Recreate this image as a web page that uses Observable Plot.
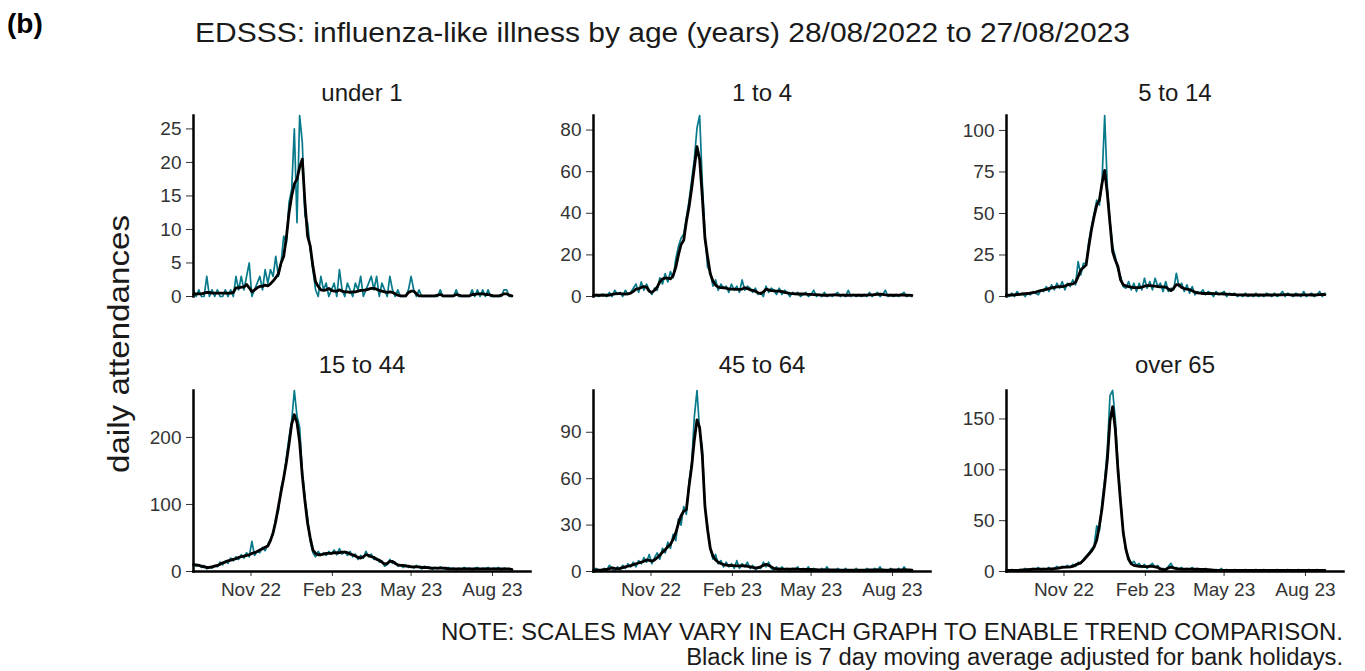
<!DOCTYPE html>
<html>
<head>
<meta charset="utf-8">
<script src="https://cdn.jsdelivr.net/npm/d3@7"></script>
<script src="https://cdn.jsdelivr.net/npm/@observablehq/plot@0.6"></script>
<style>
  body { margin: 0; background: #fff; }
  #root { position: relative; width: 1365px; height: 671px; overflow: hidden; font-family: "Liberation Sans", Arial, sans-serif; color: #000; }
  .abs { position: absolute; white-space: nowrap; line-height: 1; display: inline-block; }
</style>
</head>
<body>
<div id="root"></div>
<script>
// ---- data (sampled every 3 days from 28/08/2022) ----
const startDate = "2022-08-28";
const stepDays = 3;
const xDomain = ["2022-08-28", "2023-09-13"];
const xTickDates = ["2022-11-01", "2023-02-01", "2023-05-01", "2023-08-01"];

const panelTitles = ["under 1", "1 to 4", "5 to 14", "15 to 44", "45 to 64", "over 65"];

const under1Daily = [1,0,1,0,0,3,0,1,0,1, 0,0,1,0,1,0,3,1,3,1, 3,5,0,1,2,3,1,4,2,4, 3,6,3,5,9,8,14,16,25,11, 27,23,12,11,7,4,1,0,3,1, 2,0,1,2,0,4,1,0,2,1, 0,2,1,3,0,1,2,3,1,3, 0,2,1,0,3,1,0,1,0,0, 0,1,3,1,0,1,0,0,0,0, 0,0,0,1,0,0,0,0,0,1, 0,0,0,0,0,1,0,1,0,1, 0,1,0,0,0,0,0,1,1,0, 0];
const under1Avg = [0.3,0.4,0.4,0.4,0.5,0.6,0.6,0.5,0.5,0.5, 0.5,0.5,0.5,0.5,0.5,0.6,1.3,1.3,1.4,1.4, 1.8,1.3,0.7,1.0,1.3,1.5,1.5,1.7,1.6,1.9, 2.3,2.8,3.4,5.0,6.0,8.8,12.5,15,16.8,17.5, 19.3,20.5,14,9,7.5,4.5,2.2,1.5,1.0,0.9, 1.0,1.2,0.9,0.8,0.8,1.0,0.8,0.7,0.7,0.6, 0.7,0.7,0.8,0.9,0.9,1.0,1.1,1.2,1.2,1.1, 0.9,0.8,0.7,0.6,0.7,0.6,0.4,0.2,0.1,0.1, 0.1,0.6,0.8,0.8,0.4,0.1,0.1,0.1,0.1,0.1, 0.1,0.1,0.2,0.3,0.1,0.1,0.1,0.1,0.1,0.3, 0.2,0.1,0.1,0.1,0.1,0.3,0.3,0.4,0.4,0.4, 0.3,0.3,0.2,0.1,0.1,0.1,0.2,0.4,0.4,0.2, 0.1];

const age1to4Daily = [0,1,0,1,1,0,2,0,3,1, 2,0,3,1,2,4,6,2,7,3, 6,3,1,4,3,9,6,11,7,12, 9,18,24,28,30,38,46,56,66,81, 87,55,30,14,12,5,8,3,6,4, 5,2,6,3,5,2,8,3,5,4, 2,4,1,2,0,5,2,4,3,1, 4,1,3,2,0,2,1,2,0,1, 2,0,1,3,0,1,0,2,0,1, 0,1,2,0,1,0,3,0,1,0, 1,0,1,0,2,0,1,2,0,1, 3,0,1,0,1,0,1,2,0,1, 0];
const age1to4Avg = [0.6,0.6,0.6,0.6,0.6,0.6,0.7,1.0,1.3,1.4, 1.4,1.3,1.2,1.3,1.6,2.5,3.5,3.8,4.3,4.8, 4.5,2.5,2.0,3.0,4.5,7.0,8.5,8.8,8.8,8.5, 10,14,20,25,27,36,43,52,62,72, 66,48,28,19,11,7.5,5.5,4.5,4.3,4.2, 4.0,3.6,3.5,3.5,3.4,3.4,3.6,4.2,3.8,3.2, 3.0,2.5,1.8,1.4,2.2,3.5,3.2,2.8,2.7,2.6, 2.6,2.4,2.0,1.7,1.5,1.4,1.3,1.2,1.3,1.2, 1.1,1.0,1.0,0.9,0.9,0.8,0.7,0.6,0.6,0.7, 0.8,0.8,0.7,0.7,0.7,0.6,0.6,0.7,0.7,0.6, 0.6,0.6,0.6,0.7,0.8,0.8,0.9,1.0,1.1,1.0, 0.8,0.7,0.6,0.6,0.6,0.7,0.8,0.7,0.6,0.5, 0.5];

const age5to14Daily = [1,0,2,0,3,1,2,0,2,1, 3,2,1,4,3,6,3,7,4,8, 5,9,4,8,6,10,7,21,13,20, 20,33,42,50,58,55,70,109,66,45, 30,24,16,12,6,5,9,4,8,3, 8,4,11,5,9,4,11,6,8,3, 9,3,5,4,14,6,8,3,7,2, 6,1,3,2,4,1,3,2,0,3, 1,2,3,0,2,1,2,0,1,0, 2,0,1,0,2,0,1,0,2,1, 0,2,0,1,3,0,2,1,0,2, 1,0,3,0,1,2,0,1,3,0, 2];
const age5to14Avg = [0.7,0.8,0.9,1.0,1.2,1.3,1.5,1.7,1.8,2.1, 2.3,2.6,3.2,3.6,4.0,4.3,4.8,5.2,5.5,5.8, 5.9,6.0,6.3,7.0,7.4,7.6,8.5,12,16,17.5, 19,30,40,48,55,58,68,76,62,44, 27,22,18,10,7,6.4,6.0,5.6,5.4,5.4, 5.4,5.6,6.2,6.6,6.6,6.4,6.2,6.0,5.8,5.8, 5.6,4.5,3.5,5.0,7.2,7.0,5.5,4.8,4.4,4.2, 3.5,2.6,2.2,2.0,1.8,1.8,1.8,1.8,1.7,1.7, 1.6,1.6,1.5,1.4,1.3,1.2,1.1,1.0,1.0,1.0, 0.9,0.9,0.9,0.9,0.9,0.9,0.9,0.9,0.9,0.9, 0.9,1.0,1.0,1.0,1.0,1.1,1.1,1.0,0.9,0.9, 0.9,1.0,1.0,1.0,1.0,0.9,0.9,1.0,1.1,1.2, 1.1];

const age15to44Daily = [12,8,10,6,9,4,7,5,9,7, 14,10,16,12,20,16,22,18,25,20, 28,22,45,24,30,28,36,31,40,48, 55,80,90,125,140,170,200,225,270,232, 215,150,110,80,45,28,22,30,24,28, 24,30,26,32,25,34,26,30,24,30, 22,26,18,24,20,30,22,26,18,20, 14,16,8,10,18,12,14,8,10,6, 10,6,8,5,9,6,4,8,5,7, 3,6,4,7,5,3,6,4,5,2, 5,3,6,4,5,2,5,6,3,5, 4,6,3,5,4,6,2,5,4,3, 4];
const age15to44Avg = [10,10,9,8,7,6,6,7,8,9, 11,13,14,16,17,18,19,21,22,23, 24,25,27,28,30,32,34,36,38,46, 58,75,97,119,140,163,190,220,234,222, 193,143,105,72,50,32,27,25,25,26, 27,27,27,28,28,28,29,29,28,26, 25,23,21,20,22,25,24,22,21,18, 17,14,11,12,15,15,12,10,9,9, 8,8,7,7,7,7,6,6,6,5, 5,5,5,5,5,5,4,4,4,4, 4,4,4,4,4,4,4,4,4,4, 4,4,4,4,4,4,4,4,4,4, 3];

const age45to64Daily = [0,2,1,0,2,1,4,2,0,3, 1,4,2,5,3,6,3,7,5,9, 6,11,5,9,12,8,15,12,19,15, 24,20,34,30,42,37,58,70,100,117, 91,80,42,28,15,8,11,5,7,3, 6,3,5,2,7,2,5,3,6,2, 4,1,3,2,6,3,6,2,1,3, 0,3,1,2,0,2,1,3,0,2, 1,3,0,2,1,0,2,1,3,0, 1,0,2,1,0,2,0,1,0,2, 0,1,0,2,1,0,2,1,3,0, 1,0,2,1,0,2,0,3,1,0, 1];
const age45to64Avg = [0.9,0.9,0.9,1.0,1.2,1.3,1.8,2.4,2.0,1.8, 2.0,2.5,3.0,3.4,3.8,4.4,5.0,5.5,6.0,6.6, 7.5,7.2,6.7,7.5,8.9,10.5,12.5,14,16,17.5, 21,25,31,36,39,40,55,68,85,98, 93,75,42,27,15,10,7.5,6,5.2,4.5, 4.2,4.0,3.8,3.8,3.6,3.6,3.8,3.6,3.4,3.0, 2.6,2.4,2.4,3.0,4.0,4.6,4.0,3.0,2.0,1.7, 1.7,1.6,1.6,1.5,1.5,1.6,1.7,1.5,1.4,1.4, 1.3,1.3,1.3,1.2,1.2,1.1,1.1,1.0,1.0,1.0, 1.0,1.0,0.9,0.9,0.9,0.9,0.9,0.9,0.9,0.9, 0.9,0.9,0.9,0.9,1.0,1.0,1.1,1.1,1.0,1.0, 0.9,0.9,1.0,1.1,1.0,1.0,1.1,1.2,1.1,1.0, 0.9];

const over65Daily = [1,0,2,1,0,2,1,3,2,1, 3,2,4,1,3,2,4,1,3,5, 3,5,4,6,4,7,5,9,8,12, 15,18,22,25,45,40,68,90,120,173, 178,150,105,70,40,20,14,8,10,6, 8,4,7,3,6,8,4,6,2,3, 1,5,8,3,4,2,4,1,3,2, 4,1,3,2,0,3,1,2,0,2, 1,3,0,2,1,0,2,1,0,1, 2,0,1,0,2,1,0,2,1,0, 1,0,2,0,1,0,2,1,0,1, 2,0,1,0,2,1,0,2,1,0, 1];
const over65Avg = [1,1,1,1,1.2,1.3,1.5,1.7,1.9,2.1, 2.2,2.3,2.3,2.3,2.4,2.4,2.5,2.6,2.8,3.0, 3.5,4.0,4.3,4.3,4.5,5,6.5,7.5,8.5,11, 14,17,20,24,31,45,62,85,110,148, 162,140,100,68,38,22,12,7.5,6,5.5, 5,5,4.8,4.8,5,5,4.6,4.0,2.5,1.8, 2.2,3.5,4.3,3.5,2.8,2.6,2.4,2.3,2.3,2.3, 2.3,2.2,2.2,2.1,2.0,2.0,1.8,1.6,1.4,1.2, 1.1,1,1,1,1,1,1,1,1,1, 1,1,1,1,1,1,1,1,1,1, 1,1,1,1,1,1,1,1,1,1, 1,1,1,1,1,1,1,1,1,1, 1];

const yTicks = [
  [0,5,10,15,20,25],
  [0,20,40,60,80],
  [0,25,50,75,100],
  [0,100,200],
  [0,30,60,90],
  [0,50,100,150]
];

const dailySeries = [under1Daily, age1to4Daily, age5to14Daily, age15to44Daily, age45to64Daily, over65Daily];
const avgSeries = [under1Avg, age1to4Avg, age5to14Avg, age15to44Avg, age45to64Avg, over65Avg];

const titleText = "EDSSS: influenza-like illness by age (years) 28/08/2022 to 27/08/2023";
const panelLabel = "(b)";
const yLabel = "daily attendances";
const notes = ["NOTE: SCALES MAY VARY IN EACH GRAPH TO ENABLE TREND COMPARISON.",
               "Black line is 7 day moving average adjusted for bank holidays."];

// ---- drawing ----
const TEAL = "#067a8b";
const FONT = '"Liberation Sans", Arial, sans-serif';
const root = document.getElementById("root");
const t0 = new Date(startDate + "T00:00:00Z").getTime();
const parse = s => new Date(s + "T00:00:00Z");

const colLeft = [193, 593, 1006];   // panel left edges
const rowTop = [115, 390];          // panel top edges
const panelW = 337, panelH = 181;
const mL = 70, mR = 12, mT = 40;

function addText(txt, css) {
  const d = document.createElement("div");
  d.className = "abs";
  d.textContent = txt;
  Object.assign(d.style, css);
  root.appendChild(d);
  return d;
}
// stretch a text box horizontally to a target width (the reference font is slightly wider)
function fitWidth(el, target, origin) {
  const w = el.getBoundingClientRect().width;
  el.style.transformOrigin = origin;
  el.style.transform = `scaleX(${target / w})`;
}

dailySeries.forEach((daily, k) => {
  const row = Math.floor(k / 3), col = k % 3;
  const showX = row === 1;
  const mB = showX ? 40 : 8;
  const data = daily.map((v, i) => ({
    date: new Date(t0 + i * stepDays * 864e5),
    daily: v,
    avg: avgSeries[k][i]
  }));
  const ymax = d3.max(daily);
  const chart = Plot.plot({
    width: mL + panelW + mR,
    height: mT + panelH + mB,
    marginLeft: mL, marginRight: mR, marginTop: mT, marginBottom: mB,
    style: { fontFamily: FONT, fontSize: "19px", color: "#333", background: "transparent", overflow: "visible" },
    x: {
      type: "utc",
      domain: xDomain.map(parse),
      ticks: xTickDates.map(parse),
      tickFormat: d3.utcFormat("%b %y"),
      tickSize: 5, tickPadding: 6,
      axis: showX ? "bottom" : null,
      label: null
    },
    y: { domain: [0, ymax], ticks: yTicks[k], tickSize: 7, tickPadding: 5, label: null },
    marks: [
      Plot.lineY(data, { x: "date", y: "daily", stroke: TEAL, strokeWidth: 1.7 }),
      Plot.lineY(data, { x: "date", y: "avg", stroke: "#000", strokeWidth: 2.8, strokeLinejoin: "round" }),
      Plot.frame({ anchor: "left", stroke: "#000", strokeWidth: 2.5 }),
      showX ? Plot.frame({ anchor: "bottom", stroke: "#000", strokeWidth: 2.5 }) : null,
      Plot.text([panelTitles[k]], { frameAnchor: "top", lineAnchor: "middle", dy: row === 0 ? -22 : -25, fontSize: 24, fill: "#1a1a1a", text: d => d })
    ]
  });
  chart.style.position = "absolute";
  chart.style.left = (colLeft[col] - mL) + "px";
  chart.style.top = (rowTop[row] - mT) + "px";
  root.appendChild(chart);
});

addText(panelLabel, { left: "7px", top: "10px", fontSize: "28px", fontWeight: "bold" });
const ttl = addText(titleText, { left: "195px", top: "20px", fontSize: "27px", color: "#1a1a1a" });
fitWidth(ttl, 935, "left center");
const n1 = addText(notes[0], { right: "22px", top: "621px", fontSize: "23px", color: "#1a1a1a" });
fitWidth(n1, 902, "right center");
const n2 = addText(notes[1], { right: "22px", top: "646px", fontSize: "23px", color: "#1a1a1a" });
fitWidth(n2, 657, "right center");

const yl = addText(yLabel, { fontSize: "30px", color: "#1a1a1a" });
{
  const r = yl.getBoundingClientRect();
  const s = 258 / r.width;
  yl.style.left = (119 - r.width / 2) + "px";
  yl.style.top = (344 - r.height / 2) + "px";
  yl.style.transformOrigin = "center center";
  yl.style.transform = `rotate(-90deg) scaleX(${s})`;
}
</script>
</body>
</html>
